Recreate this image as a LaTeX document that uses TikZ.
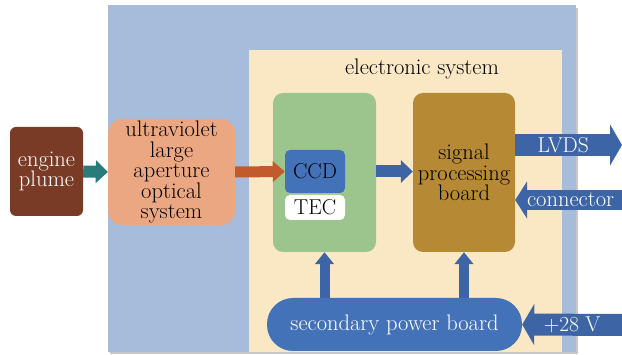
\documentclass[tikz,border=0pt]{standalone}
\usepackage{xcolor}
\definecolor{frame}{HTML}{A7BBDA}
\definecolor{cream}{HTML}{FAE8C4}
\definecolor{plumebrown}{HTML}{7A3B26}
\definecolor{teal}{HTML}{2A7B7C}
\definecolor{salmon}{HTML}{EBA682}
\definecolor{rust}{HTML}{C25A2C}
\definecolor{sage}{HTML}{9CC58E}
\definecolor{ccdblue}{HTML}{4472B9}
\definecolor{ochre}{HTML}{B68935}
\definecolor{flow}{HTML}{3D65A5}
\usetikzlibrary{arrows.meta, positioning, calc}

\begin{document}
\begin{tikzpicture}[x=1pt, y=-1pt,
  every node/.style={font=\fontsize{22.5}{20.5}\selectfont, align=center, inner sep=0pt},
  caps/.style={font=\fontsize{21.5}{20.5}\selectfont},
  block/.style={rounded corners=#1, minimum width=0pt},
  bigarrow/.style={line width=#1, -{Triangle[length=12pt, width=#1*1.85]}}]
  \useasboundingbox (0,0) rectangle (622,355);

  % frames
  \fill[gray!45] (110,8) rectangle (578,354);
  \fill[frame] (108,5) rectangle (576,352);
  \fill[cream] (249,50) rectangle (562,352);
  \node (title) at (422,69) {electronic system};

  % blocks
  \node[block=6pt, fill=plumebrown, text=white, minimum width=73pt, minimum height=89pt]
    (plume) at (46.5,171.5) {engine\\plume};
  \node[block=14pt, fill=salmon, minimum width=127pt, minimum height=106pt]
    (optics) at (171.5,172) {ultraviolet\\large\\aperture\\optical\\system};
  \node[block=10pt, fill=sage, minimum width=103pt, minimum height=159pt]
    (detector) at (324.5,172.5) {};
  \node[block=5pt, caps, fill=ccdblue, minimum width=60pt, minimum height=43pt]
    (ccd) at (315,171.5) {CCD};
  \node[block=5pt, caps, fill=white, minimum width=60pt, minimum height=25pt]
    (tec) at (315,207.5) {TEC};
  \node[block=10pt, fill=ochre, minimum width=102pt, minimum height=159pt]
    (signal) at (464,172.5) {signal\\processing\\board};
  \node[block=26pt, fill=ccdblue, text=white, minimum width=255pt, minimum height=53pt]
    (power) at (394.5,324.5) {secondary power board};

  \coordinate (lvds end) at (622,145);
  \coordinate (conn start) at (622,200);
  \coordinate (supply start) at (622,325);

  % connectors
  \draw[bigarrow=12pt, teal] (plume.east) -- (optics.west);
  \draw[bigarrow=11pt, rust] (optics.east) -- (ccd.west);
  \draw[bigarrow=12pt, flow] (detector.east |- ccd.east) -- (signal.west |- ccd.east);
  \draw[bigarrow=22pt, flow] (signal.east |- lvds end) -- (lvds end)
    node[pos=0.45, caps, text=white] {LVDS};
  \draw[bigarrow=20pt, flow] (conn start) -- (conn start -| signal.east)
    node[midway, text=white, xshift=2pt] {connector};
  \draw[bigarrow=22pt, flow] (supply start) -- (power.east)
    node[midway, caps, text=white] {+28 V};
  \draw[bigarrow=10pt, flow] (detector.south |- power.north) -- (detector.south);
  \draw[bigarrow=10pt, flow] (signal.south |- power.north) -- (signal.south);
\end{tikzpicture}
\end{document}
